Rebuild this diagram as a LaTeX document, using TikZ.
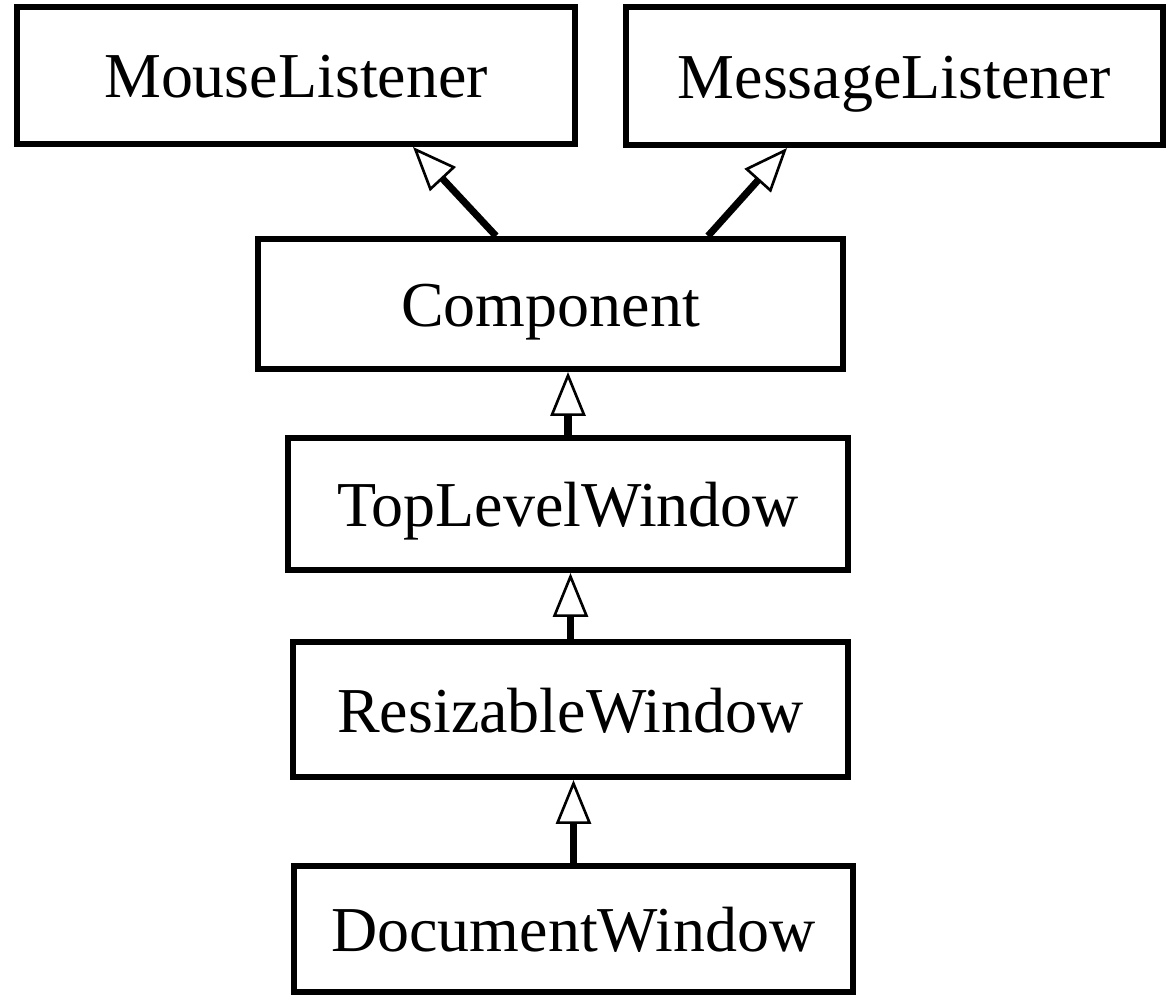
\documentclass[tikz,border=0pt]{standalone}
\usepackage{fontspec}
\setmainfont{Liberation Serif}
\usetikzlibrary{arrows.meta}

\begin{document}
\begin{tikzpicture}[
  cls/.style={draw, line width=3.4pt, inner sep=0pt, text height=25.6pt, text depth=0pt, font=\fontsize{36.4}{44}\selectfont},
  inh/.style={line width=4pt, -{Triangle[open,length=25pt,width=20pt,line width=1.5pt]}}]

\useasboundingbox (0,0) rectangle (23.36,-19.94);

\node[cls, minimum width=11.16cm, minimum height=2.74cm] (mouse) at (5.92,-1.51) {MouseListener};
\node[cls, minimum width=10.74cm, minimum height=2.76cm] (message) at (17.89,-1.52) {MessageListener};
\node[cls, minimum width=11.70cm, minimum height=2.60cm] (comp) at (11.01,-6.08) {Component};
\node[cls, minimum width=11.20cm, minimum height=2.64cm] (top) at (11.36,-10.08) {TopLevelWindow};
\node[cls, minimum width=11.10cm, minimum height=2.70cm] (resize) at (11.41,-14.19) {ResizableWindow};
\node[cls, minimum width=11.18cm, minimum height=2.52cm] (doc) at (11.47,-18.58) {DocumentWindow};

\draw[inh] ([xshift=-1.09cm]comp.north) -- ([xshift=2.34cm]mouse.south);
\draw[inh] ([xshift=3.15cm]comp.north) -- ([xshift=-2.15cm]message.south);
\draw[inh] (top.north) -- (top.north |- comp.south);
\draw[inh] (resize.north) -- (resize.north |- top.south);
\draw[inh] (doc.north) -- (doc.north |- resize.south);
\end{tikzpicture}
\end{document}
